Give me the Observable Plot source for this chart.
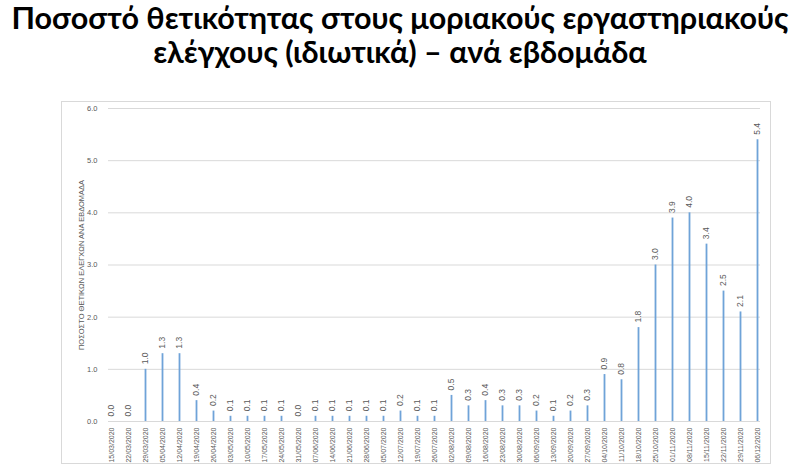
<!DOCTYPE html>
<html>
<head>
<meta charset="utf-8">
<script src="https://cdn.jsdelivr.net/npm/d3@7"></script>
<script src="https://cdn.jsdelivr.net/npm/@observablehq/plot@0.6"></script>
<style>
  html, body { margin: 0; padding: 0; background: #fff; }
  #wrap { position: relative; width: 800px; height: 467px; overflow: hidden; }
  #title { position: absolute; left: 0; top: 0px; width: 800px; text-align: center;
    font-family: Lato, "Open Sans", sans-serif; font-weight: bold; font-size: 30.5px; line-height: 35px; color: #000; }
  #title div { height: 34px; }
  #frame { position: absolute; left: 61px; top: 101px; width: 708px; height: 361px; border: 1px solid #d9d9d9; }
  #chart { position: absolute; left: 0; top: 90px; }
</style>
</head>
<body>
<div id="wrap">
  <div id="title"><div>Ποσοστό θετικότητας στους μοριακούς εργαστηριακούς</div><div>ελέγχους (ιδιωτικά) – ανά εβδομάδα</div></div>
  <div id="frame"></div>
  <div id="chart"></div>
</div>
<script>
const weeks = ["15/03/2020","22/03/2020","29/03/2020","05/04/2020","12/04/2020","19/04/2020","26/04/2020",
  "03/05/2020","10/05/2020","17/05/2020","24/05/2020","31/05/2020","07/06/2020","14/06/2020","21/06/2020",
  "28/06/2020","05/07/2020","12/07/2020","19/07/2020","26/07/2020","02/08/2020","09/08/2020","16/08/2020",
  "23/08/2020","30/08/2020","06/09/2020","13/09/2020","20/09/2020","27/09/2020","04/10/2020","11/10/2020",
  "18/10/2020","25/10/2020","01/11/2020","08/11/2020","15/11/2020","22/11/2020","29/11/2020","06/12/2020"];
const positivity = [0.0,0.0,1.0,1.3,1.3,0.4,0.2,0.1,0.1,0.1,0.1,0.0,0.1,0.1,0.1,0.1,0.1,0.2,0.1,0.1,
  0.5,0.3,0.4,0.3,0.3,0.2,0.1,0.2,0.3,0.9,0.8,1.8,3.0,3.9,4.0,3.4,2.5,2.1,5.4];
const yTicks = [0,1,2,3,4,5,6];
const yLabel = "ΠΟΣΟΣΤΟ ΘΕΤΙΚΩΝ ΕΛΕΓΧΩΝ ΑΝΑ ΕΒΔΟΜΑΔΑ";

const data = weeks.map((w, i) => ({week: w, value: positivity[i]}));

const chart = Plot.plot({
  width: 800,
  height: 377,
  marginLeft: 108,
  marginRight: 40,
  marginTop: 18,
  marginBottom: 46,
  style: {fontFamily: "'Liberation Sans', Arial, sans-serif", color: "#595959", background: "transparent"},
  x: {type: "point", domain: weeks, padding: 0.12, label: null},
  y: {domain: [0, 6], ticks: yTicks, label: yLabel},
  marks: [
    Plot.gridY(yTicks, {stroke: "#d9d9d9", strokeOpacity: 1, strokeWidth: 1}),
    Plot.axisY(yTicks, {tickFormat: d => d.toFixed(1), tickSize: 0, tickPadding: 11, fontSize: 7.5,
      fill: "#595959", label: yLabel, labelAnchor: "center", labelArrow: "none", labelOffset: 30}),
    Plot.axisX({tickRotate: -90, tickSize: 0, tickPadding: 6, fontSize: 7, fill: "#595959", label: null}),
    Plot.ruleX(data, {x: "week", y1: 0, y2: "value", stroke: "#6fa3d8", strokeWidth: 1.8}),
    Plot.text(data, {x: "week", y: "value", text: d => d.value.toFixed(1), rotate: -90,
      textAnchor: "start", dy: -5, fontSize: 8.5, fill: "#595959"})
  ]
});
document.getElementById("chart").appendChild(chart);
</script>
</body>
</html>
